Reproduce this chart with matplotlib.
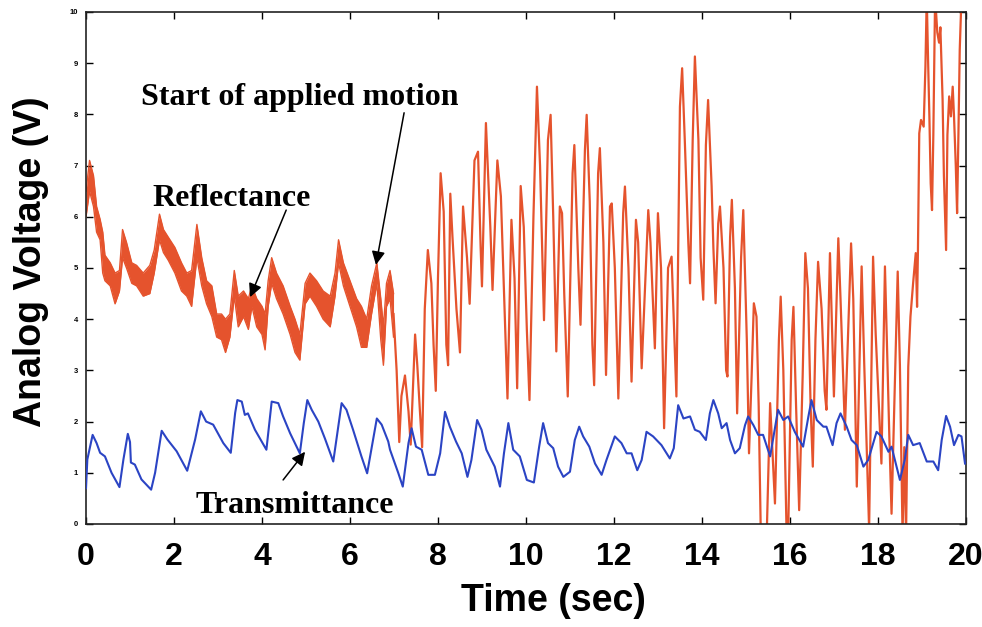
import numpy as np
import matplotlib.pyplot as plt

# --- reflectance, noisy band before the motion starts (upper / lower edge, V)
band_t = [0.00, 0.08, 0.17, 0.24, 0.32, 0.38, 0.43, 0.55, 0.66, 0.76, 0.83, 0.92,
          1.04, 1.15, 1.30, 1.45, 1.55, 1.67, 1.76, 1.87, 2.02, 2.17, 2.29, 2.40,
          2.52, 2.63, 2.74, 2.86, 2.97, 3.08, 3.17, 3.27, 3.37, 3.46, 3.58, 3.69,
          3.77, 3.88, 4.00, 4.07, 4.14, 4.22, 4.33, 4.48, 4.64, 4.75, 4.86, 4.98,
          5.09, 5.24, 5.39, 5.55, 5.66, 5.74, 5.85, 6.00, 6.15, 6.26, 6.38, 6.49,
          6.61, 6.70, 6.76, 6.83, 6.91, 6.99]
band_hi = [6.5, 7.1, 6.8, 6.2, 5.95, 5.7, 5.25, 5.1, 4.9, 4.95, 5.75, 5.5,
           5.1, 5.05, 4.9, 5.05, 5.35, 6.05, 5.75, 5.6, 5.4, 5.1, 4.9, 4.95,
           5.85, 5.2, 4.75, 4.65, 4.1, 4.1, 4.0, 4.1, 4.95, 4.45, 4.55, 4.4,
           4.65, 4.4, 4.25, 4.1, 4.75, 5.2, 4.9, 4.65, 4.25, 4.0, 3.7, 4.7,
           4.9, 4.75, 4.55, 4.45, 4.9, 5.55, 5.1, 4.75, 4.4, 4.25, 4.0, 4.65,
           5.1, 4.4, 3.85, 4.7, 4.95, 4.5]
band_lo = [6.0, 6.5, 6.2, 5.7, 5.55, 4.9, 4.75, 4.65, 4.3, 4.55, 5.2, 5.0,
           4.7, 4.65, 4.45, 4.5, 4.9, 5.55, 5.3, 5.15, 4.9, 4.55, 4.45, 4.25,
           5.2, 4.65, 4.3, 4.05, 3.65, 3.6, 3.35, 3.65, 4.45, 3.85, 4.05, 3.8,
           4.25, 3.85, 3.7, 3.4, 4.25, 4.7, 4.4, 4.1, 3.7, 3.35, 3.2, 4.3,
           4.45, 4.25, 4.0, 3.85, 4.45, 5.1, 4.65, 4.25, 3.85, 3.45, 3.45, 4.1,
           4.7, 3.6, 3.1, 4.25, 4.4, 3.65]

# --- reflectance after the motion starts (peaks / troughs, V)
refl_t = [6.99, 7.06, 7.12, 7.17, 7.25, 7.33, 7.38, 7.48, 7.53, 7.59, 7.64, 7.70,
          7.77, 7.85, 7.90, 7.95, 8.00, 8.06, 8.13, 8.19, 8.23, 8.28, 8.33, 8.42,
          8.50, 8.57, 8.66, 8.72, 8.83, 8.91, 8.97, 9.00, 9.09, 9.19, 9.24, 9.35,
          9.43, 9.52, 9.58, 9.67, 9.74, 9.80, 9.88, 9.95, 10.02, 10.08, 10.17, 10.25,
          10.32, 10.41, 10.50, 10.56, 10.62, 10.69, 10.77, 10.82, 10.87, 10.95, 11.06, 11.10,
          11.19, 11.24, 11.34, 11.38, 11.45, 11.51, 11.55, 11.64, 11.68, 11.76, 11.82, 11.91,
          11.95, 12.02, 12.10, 12.21, 12.25, 12.33, 12.40, 12.50, 12.55, 12.63, 12.78, 12.83,
          12.93, 13.00, 13.07, 13.14, 13.23, 13.31, 13.36, 13.42, 13.50, 13.55, 13.61, 13.69,
          13.73, 13.79, 13.84, 13.92, 13.97, 14.03, 14.09, 14.14, 14.22, 14.26, 14.31, 14.37,
          14.41, 14.49, 14.55, 14.58, 14.64, 14.68, 14.75, 14.80, 14.89, 14.94, 15.02, 15.07,
          15.13, 15.18, 15.24, 15.29, 15.34, 15.47, 15.55, 15.61, 15.66, 15.75, 15.79, 15.85,
          15.92, 15.96, 16.04, 16.08, 16.14, 16.21, 16.29, 16.35, 16.41, 16.47, 16.52, 16.58,
          16.64, 16.72, 16.79, 16.83, 16.91, 17.00, 17.10, 17.15, 17.25, 17.39, 17.44, 17.52,
          17.63, 17.69, 17.80, 17.89, 17.95, 18.08, 18.16, 18.26, 18.31, 18.45, 18.50, 18.56,
          18.60, 18.64, 18.69, 18.74, 18.80, 18.86, 18.89, 18.91, 18.94, 18.98, 19.04, 19.08,
          19.11, 19.14, 19.17, 19.20, 19.23, 19.26, 19.30, 19.35, 19.39, 19.42, 19.47, 19.50,
          19.55, 19.58, 19.62, 19.66, 19.70, 19.73, 19.77, 19.80, 19.83, 19.86, 19.90, 20.00]
refl_v = [4.1, 3.0, 1.6, 2.5, 2.9, 2.2, 1.55, 3.7, 3.1, 2.2, 1.5, 4.2,
          5.35, 4.7, 3.5, 2.6, 4.8, 6.85, 6.1, 3.5, 3.1, 6.45, 5.6, 4.2,
          3.35, 6.2, 5.2, 4.3, 7.1, 7.27, 5.4, 4.64, 7.83, 5.8, 4.57, 7.1,
          6.4, 4.0, 2.45, 5.94, 4.8, 2.65, 6.6, 5.8, 3.8, 2.42, 6.0, 8.54,
          7.0, 3.98, 7.5, 7.99, 6.0, 3.37, 6.2, 6.07, 4.5, 2.49, 6.85, 7.4,
          5.0, 3.89, 7.3, 7.99, 6.3, 3.5, 2.71, 6.85, 7.34, 5.5, 2.91, 6.2,
          6.26, 5.0, 2.45, 6.07, 6.59, 5.0, 2.78, 5.94, 5.5, 3.04, 6.13, 5.5,
          3.43, 6.07, 5.0, 1.87, 5.0, 5.22, 4.0, 2.49, 8.15, 8.9, 7.5, 5.5,
          4.7, 7.5, 9.13, 7.5, 5.2, 4.38, 7.4, 8.28, 6.6, 5.4, 4.31, 5.87,
          6.2, 5.0, 3.0, 2.88, 5.6, 6.33, 4.6, 2.16, 5.2, 6.13, 3.6, 1.38,
          2.9, 4.31, 4.05, 2.3, -0.3, -0.3, 2.36, 1.3, 0.4, 3.6, 4.44, 3.0,
          0.0, -0.2, 3.6, 4.24, 2.3, 0.27, 2.9, 5.29, 4.6, 2.3, 1.12, 3.6,
          5.12, 4.2, 2.6, 2.23, 5.29, 2.49, 5.58, 4.4, 1.84, 5.48, 4.4, 0.73,
          5.03, 3.1, -0.1, 5.22, 3.7, 1.18, 5.03, 1.7, 0.2, 4.93, 3.1, -0.2,
          1.5, -0.2, 3.07, 4.05, 4.7, 5.29, 4.24, 5.35, 7.63, 7.89, 7.76, 8.93,
          10.3, 9.07, 7.96, 6.65, 6.13, 7.6, 10.3, 9.6, 9.4, 9.7, 8.3, 6.8,
          5.35, 7.6, 8.35, 7.96, 8.54, 7.96, 7.0, 6.07, 7.6, 9.26, 10.3, 10.3]

# --- transmittance (V)
trans_t = [0.00, 0.03, 0.15, 0.24, 0.32, 0.43, 0.58, 0.76, 0.85, 0.95, 1.00, 1.02,
           1.11, 1.26, 1.48, 1.57, 1.72, 1.85, 2.06, 2.30, 2.48, 2.61, 2.73, 2.89,
           3.12, 3.29, 3.39, 3.44, 3.54, 3.61, 3.68, 3.84, 4.10, 4.22, 4.37, 4.48,
           4.64, 4.86, 4.95, 5.03, 5.13, 5.28, 5.43, 5.62, 5.81, 5.92, 6.07, 6.26,
           6.39, 6.61, 6.72, 6.87, 6.91, 7.10, 7.20, 7.33, 7.40, 7.50, 7.63, 7.78,
           7.93, 8.05, 8.16, 8.27, 8.41, 8.54, 8.67, 8.76, 8.89, 8.99, 9.10, 9.29,
           9.41, 9.50, 9.60, 9.71, 9.86, 10.02, 10.18, 10.30, 10.39, 10.50, 10.62, 10.73,
           10.85, 11.00, 11.11, 11.21, 11.30, 11.44, 11.57, 11.72, 11.83, 12.02, 12.17, 12.29,
           12.40, 12.53, 12.63, 12.74, 12.89, 13.08, 13.27, 13.36, 13.46, 13.58, 13.73, 13.84,
           13.95, 14.09, 14.18, 14.26, 14.37, 14.45, 14.56, 14.64, 14.75, 14.86, 14.98, 15.05,
           15.17, 15.28, 15.39, 15.55, 15.66, 15.73, 15.85, 15.96, 16.11, 16.30, 16.42, 16.49,
           16.61, 16.76, 16.83, 16.97, 17.06, 17.15, 17.29, 17.40, 17.52, 17.67, 17.78, 17.97,
           18.08, 18.24, 18.31, 18.50, 18.61, 18.69, 18.80, 18.95, 19.11, 19.26, 19.37, 19.45,
           19.55, 19.64, 19.73, 19.83, 19.90, 19.98]
trans_v = [0.7, 1.26, 1.74, 1.58, 1.39, 1.32, 1.0, 0.72, 1.26, 1.76, 1.6, 1.2,
           1.16, 0.87, 0.67, 1.0, 1.82, 1.65, 1.42, 1.04, 1.65, 2.2, 2.0, 1.94,
           1.58, 1.39, 2.17, 2.42, 2.39, 2.13, 2.16, 1.84, 1.45, 2.39, 2.36, 2.1,
           1.77, 1.38, 1.97, 2.42, 2.23, 2.0, 1.67, 1.22, 2.36, 2.23, 1.84, 1.32,
           0.99, 2.06, 1.94, 1.61, 1.45, 0.99, 0.73, 1.58, 1.87, 1.51, 1.45, 0.96,
           0.96, 1.38, 2.19, 1.9, 1.61, 1.38, 0.92, 1.25, 2.03, 1.84, 1.45, 1.12,
           0.73, 1.38, 1.97, 1.45, 1.32, 0.86, 0.81, 1.51, 1.97, 1.58, 1.48, 1.12,
           0.92, 1.02, 1.64, 1.9, 1.71, 1.51, 1.18, 0.96, 1.25, 1.71, 1.58, 1.38,
           1.38, 1.05, 1.25, 1.8, 1.71, 1.54, 1.28, 1.48, 2.32, 2.06, 2.1, 1.84,
           1.8, 1.64, 2.16, 2.42, 2.16, 1.87, 1.97, 1.64, 1.38, 1.48, 1.93, 2.1,
           1.93, 1.74, 1.74, 1.32, 1.87, 2.23, 2.03, 2.1, 1.8, 1.51, 2.1, 2.42,
           2.03, 1.9, 1.9, 1.54, 1.97, 2.16, 1.9, 1.64, 1.54, 1.12, 1.25, 1.8,
           1.71, 1.41, 1.51, 0.86, 1.25, 1.74, 1.54, 1.58, 1.22, 1.22, 1.05, 1.64,
           2.11, 1.9, 1.54, 1.74, 1.71, 1.18]

x_ticks = [0, 2, 4, 6, 8, 10, 12, 14, 16, 18, 20]
y_ticks = [0, 1, 2, 3, 4, 5, 6, 7, 8, 9, 10]

red = '#e5532d'
blue = '#2b44c4'
sans = ['Liberation Sans', 'DejaVu Sans']
serif = ['Liberation Serif', 'DejaVu Serif']

fig = plt.figure(figsize=(9.82, 6.27), dpi=100)
ax = fig.add_axes([0.0876, 0.1643, 0.896, 0.8167])

# early noisy band + edges so it keeps a ragged outline
ax.fill_between(band_t, band_lo, band_hi, color=red, lw=0)
ax.plot(band_t, band_hi, color=red, lw=1.0)
ax.plot(band_t, band_lo, color=red, lw=1.0)
ax.plot(refl_t, refl_v, color=red, lw=1.6)
ax.plot(trans_t, trans_v, color=blue, lw=1.5, zorder=3)

ax.set_xlim(0, 20)
ax.set_ylim(0, 10)
ax.set_xticks(x_ticks)
ax.set_yticks(y_ticks)
ax.set_xticklabels([str(v) for v in x_ticks], fontsize=23, fontweight='bold', family=sans)
ax.set_yticklabels([str(v) for v in y_ticks], fontsize=5.5, fontweight='bold', family=sans)
ax.tick_params(direction='in', top=True, right=True, length=5, width=1)
ax.tick_params(axis='x', pad=13)
ax.tick_params(axis='y', pad=6)
for s in ax.spines.values():
    s.set_linewidth(1.2)
    s.set_color('#222222')

ax.set_xlabel('Time (sec)', fontsize=27, fontweight='bold', family=sans)
ax.xaxis.set_label_coords(0.531, -0.115)
ax.set_ylabel('Analog Voltage (V)', fontsize=27, fontweight='bold', family=sans)
ax.yaxis.set_label_coords(-0.042, 0.512)

arrow = dict(arrowstyle='-|>', color='black', lw=1.1, mutation_scale=20, shrinkA=0, shrinkB=0)
ax.annotate('', xy=(6.59, 5.06), xytext=(7.23, 8.03), arrowprops=arrow)
ax.annotate('', xy=(3.73, 4.43), xytext=(4.55, 6.13), arrowprops=arrow)
ax.annotate('', xy=(4.98, 1.41), xytext=(4.48, 0.86), arrowprops=arrow)

ax.text(4.86, 8.33, 'Start of applied motion', fontsize=23, fontweight='bold',
        family=serif, ha='center', va='center')
ax.text(3.32, 6.36, 'Reflectance', fontsize=23, fontweight='bold',
        family=serif, ha='center', va='center')
ax.text(4.75, 0.37, 'Transmittance', fontsize=23, fontweight='bold',
        family=serif, ha='center', va='center')

fig.savefig('out.png', dpi=100)
